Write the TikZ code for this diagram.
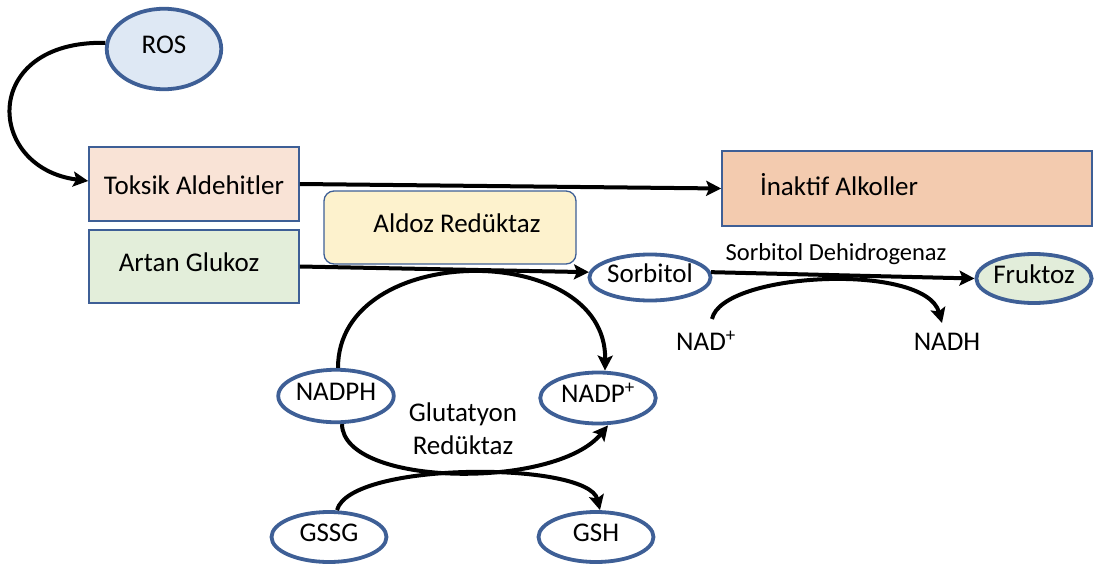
\documentclass[tikz,border=0pt]{standalone}
\usepackage{fontspec}
\setmainfont{Carlito}
\usetikzlibrary{shapes.geometric,arrows.meta}
\definecolor{edgeblue}{HTML}{3E5F96}
\definecolor{rosfill}{HTML}{DEE8F4}
\definecolor{toxfill}{HTML}{F9E3D6}
\definecolor{glufill}{HTML}{E3EEDA}
\definecolor{aldfill}{HTML}{FDF2CD}
\definecolor{alkfill}{HTML}{F3CBAF}
\definecolor{frufill}{HTML}{E2EDDA}
\begin{document}
\begin{tikzpicture}[x=1pt,y=-1pt,
  bigtext/.style={font=\fontsize{27}{32}\selectfont},
  mol/.style={ellipse, draw=edgeblue, line width=3.8pt, fill=white, inner sep=0pt,
    bigtext, text height=17pt, text depth=8pt},
  panel/.style={rectangle, draw=edgeblue, line width=1.6pt, inner sep=0pt, bigtext,
    text height=17pt, text depth=6pt},
  lbl/.style={inner sep=0pt, bigtext},
  flow/.style={line width=4pt, -{Stealth[length=15pt,width=15pt,inset=3pt]}}]
\useasboundingbox (0,0) rectangle (1096,565);

% boxes
\node[panel, fill=toxfill, minimum width=210pt, minimum height=74pt, text height=21pt, text depth=0pt] (toksik) at (194,184) {Toksik Aldehitler};
\node[panel, fill=glufill, minimum width=210pt, minimum height=73pt, text depth=8pt] (glukoz) at (194,266.5) {\hspace*{-10pt}Artan Glukoz};
\node[panel, fill=aldfill, line width=1.3pt, rounded corners=10pt, minimum width=252pt, minimum height=73pt, text depth=8pt] (aldoz) at (450,227.5) {\hspace*{14pt}Aldoz Redüktaz};
\node[panel, fill=alkfill, minimum width=370pt, minimum height=75pt, text depth=3pt] (inaktif) at (907,188.5) {\makebox[294pt][l]{İnaktif Alkoller}};

% metabolites
\node[mol, fill=rosfill, minimum width=114.5pt, minimum height=80.5pt] (ros) at (164,49) {ROS};
\node[mol, minimum width=113pt, minimum height=46pt] (sorbitol) at (650,277.5) {Sorbitol};
\node[mol, fill=frufill, minimum width=115pt, minimum height=49pt] (fruktoz) at (1034,278.5) {Fruktoz};
\node[mol, minimum width=115.5pt, minimum height=52.5pt] (nadph) at (336,396) {NADPH};
\node[mol, minimum width=115.5pt, minimum height=51pt] (nadpp) at (598,398) {NADP\textsuperscript{+}};
\node[mol, minimum width=115pt, minimum height=50pt] (gssg) at (329,537) {GSSG};
\node[mol, minimum width=115pt, minimum height=50pt] (gsh) at (596,537) {GSH};

% cofactors and enzyme labels
\node[lbl] (nad) at (706,341) {NAD\textsuperscript{+}};
\node[lbl] (nadh) at (947,342) {NADH};
\node[inner sep=0pt, font=\fontsize{24.5}{29}\selectfont] (sdh) at (836,254) {Sorbitol Dehidrogenaz};
\node[lbl, align=center, font=\fontsize{27}{33}\selectfont] (gr) at (463,429) {Glutatyon\\Redüktaz};

\coordinate (nadS) at (712,319);
\coordinate (nadhE) at (942,323);

% main reactions
\draw[flow] (ros.174) .. controls (-20,40) and (-15,168) .. ([yshift=3pt]toksik.west);
\draw[flow] (toksik.east) -- (inaktif.west);
\draw[flow] (glukoz.east) -- (sorbitol.175);
\draw[flow] (sorbitol.5) -- (fruktoz.west);

% coupled cofactor reactions
\draw[flow] (nadS) .. controls (722,272) and (925,262) .. (nadhE);
\draw[flow] ([xshift=2pt]nadph.north) .. controls (338,240) and (607,240) .. ([xshift=7pt]nadpp.north);
\draw[flow] ([xshift=6pt]nadph.south) .. controls (343,487) and (555,490) .. ([xshift=10pt]nadpp.south);
\draw[flow] ([xshift=8pt]gssg.north) .. controls (350,461) and (588,461) .. ([xshift=4pt]gsh.north);
\end{tikzpicture}
\end{document}
